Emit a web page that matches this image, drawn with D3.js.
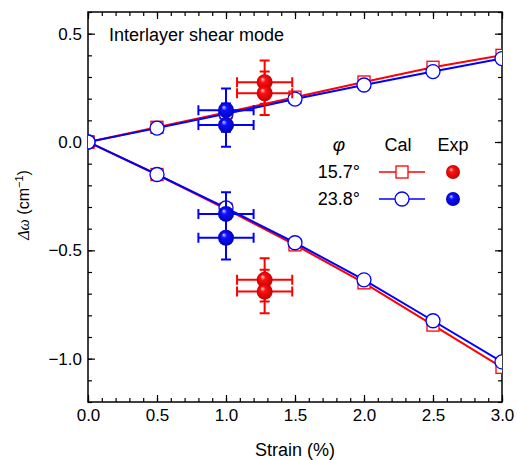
<!DOCTYPE html>
<html>
<head>
<meta charset="utf-8">
<script src="https://cdn.jsdelivr.net/npm/d3@7"></script>
<style>
  body { margin: 0; background: #fff; }
  text { font-family: "Liberation Sans", Arial, sans-serif; }
</style>
</head>
<body>
<div id="chart"></div>
<script>
// Data
const strain = [0, 0.5, 1.0, 1.5, 2.0, 2.5, 3.0];
const calRedUp = [0, 0.068, 0.136, 0.207, 0.277, 0.345, 0.40];
const calRedDown = [0, -0.15, -0.31, -0.475, -0.65, -0.845, -1.04];
const calBlueUp = [0, 0.064, 0.13, 0.198, 0.263, 0.325, 0.385];
const calBlueDown = [0, -0.15, -0.304, -0.465, -0.636, -0.825, -1.015];

// experimental points: [strain, shift, strainErr, shiftErr]
const expRed = [[1.28, 0.276, 0.2, 0.1], [1.28, 0.225, 0.2, 0.1], [1.28, -0.636, 0.2, 0.1], [1.28, -0.69, 0.2, 0.1]];
const expBlue = [[1.0, 0.147, 0.2, 0.1], [1.0, 0.078, 0.2, 0.1], [1.0, -0.332, 0.2, 0.1], [1.0, -0.442, 0.2, 0.1]];

const xTicks = [0, 0.5, 1.0, 1.5, 2.0, 2.5, 3.0];
const yTicks = [0.5, 0.0, -0.5, -1.0];

const width = 517, height = 460;
const margin = { top: 12, right: 15, bottom: 58, left: 88 };

const svg = d3.select('#chart').append('svg')
  .attr('width', width).attr('height', height);

const x = d3.scaleLinear().domain([0, 3]).range([margin.left, width - margin.right]);
const y = d3.scaleLinear().domain([-1.2, 0.6]).range([height - margin.bottom, margin.top]);

const defs = svg.append('defs');
function sphere(id, light, mid, dark) {
  const g = defs.append('radialGradient').attr('id', id)
    .attr('cx', '50%').attr('cy', '50%').attr('r', '55%')
    .attr('fx', '35%').attr('fy', '30%');
  g.append('stop').attr('offset', '0%').attr('stop-color', light);
  g.append('stop').attr('offset', '30%').attr('stop-color', mid);
  g.append('stop').attr('offset', '100%').attr('stop-color', dark);
}
sphere('redBall', '#ffd0d0', '#ff1010', '#c00000');
sphere('blueBall', '#d0d0ff', '#1010ff', '#0000b0');

svg.append('clipPath').attr('id', 'clip').append('rect')
  .attr('x', margin.left).attr('y', margin.top)
  .attr('width', width - margin.left - margin.right)
  .attr('height', height - margin.bottom - margin.top);

// Axes: ticks pointing inward on all sides
const minorX = d3.range(0, 3.01, 0.1);
const minorY = d3.range(-1.2, 0.61, 0.1);

function tickAxes(g, axisFn, scale, major, minor, pos, labels, pad) {
  g.append('g').attr('transform', pos)
    .call(axisFn(scale).tickValues(minor).tickSize(-4).tickFormat(''));
  g.append('g').attr('transform', pos)
    .call(axisFn(scale).tickValues(major).tickSize(-7).tickPadding(pad || 6)
      .tickFormat(labels ? (d => d3.format('.1f')(d).replace('-', '\u2212')) : ''));
}
const axes = svg.append('g').attr('class', 'axes');
tickAxes(axes, d3.axisBottom, x, xTicks, minorX, `translate(0,${y(-1.2)})`, true, 7);
tickAxes(axes, d3.axisTop, x, xTicks, minorX, `translate(0,${y(0.6)})`, false);
tickAxes(axes, d3.axisLeft, y, yTicks, minorY, `translate(${x(0)},0)`, true, 6);
tickAxes(axes, d3.axisRight, y, yTicks, minorY, `translate(${x(3)},0)`, false);
axes.selectAll('.domain').remove();
axes.selectAll('line').attr('stroke', '#000').attr('stroke-width', 1.2);
axes.selectAll('text').attr('font-size', 17).attr('fill', '#000');

svg.append('rect')
  .attr('x', x(0)).attr('y', y(0.6))
  .attr('width', x(3) - x(0)).attr('height', y(-1.2) - y(0.6))
  .attr('fill', 'none').attr('stroke', '#000').attr('stroke-width', 1.5);

// Axis labels
svg.append('text').attr('x', (x(0) + x(3)) / 2).attr('y', 456)
  .attr('text-anchor', 'middle').attr('font-size', 18).text('Strain (%)');

const yl = svg.append('text')
  .attr('transform', 'translate(29,205) rotate(-90)')
  .attr('text-anchor', 'middle').attr('font-size', 16);
yl.append('tspan').attr('font-family', 'Liberation Serif, serif').attr('font-style', 'italic').text('\u0394\u03c9');
yl.append('tspan').text(' (cm');
yl.append('tspan').attr('font-size', 11).attr('dy', -6).text('\u22121');
yl.append('tspan').attr('dy', 6).text(')');

svg.append('text').attr('x', 109).attr('y', 41).attr('font-size', 18).text('Interlayer shear mode');

const plot = svg.append('g').attr('clip-path', 'url(#clip)');
const line = d3.line().x((d, i) => x(strain[i])).y(d => d);

function calSeries(vals, color, shape) {
  plot.append('path')
    .datum(vals.map(y))
    .attr('d', line)
    .attr('fill', 'none').attr('stroke', color).attr('stroke-width', 2);
  vals.forEach((v, i) => {
    if (shape === 'square') {
      plot.append('rect').attr('x', x(strain[i]) - 6).attr('y', y(v) - 6)
        .attr('width', 12).attr('height', 12)
        .attr('fill', '#fff').attr('stroke', color).attr('stroke-width', 1.3);
    } else {
      plot.append('circle').attr('cx', x(strain[i])).attr('cy', y(v)).attr('r', 7)
        .attr('fill', '#fff').attr('stroke', color).attr('stroke-width', 1.3);
    }
  });
}
calSeries(calRedUp, '#ff0000', 'square');
calSeries(calRedDown, '#ff0000', 'square');
calSeries(calBlueUp, '#0000ff', 'circle');
calSeries(calBlueDown, '#0000ff', 'circle');

function expSeries(pts, color, grad) {
  const g = plot.append('g');
  pts.forEach(([sx, sy, ex, ey]) => {
    const cx = x(sx), cy = y(sy);
    const l = x(sx - ex), r = x(sx + ex), t = y(sy + ey), b = y(sy - ey);
    g.append('path')
      .attr('d', `M${l},${cy}H${r}M${l},${cy - 5}V${cy + 5}M${r},${cy - 5}V${cy + 5}` +
        `M${cx},${t}V${b}M${cx - 5},${t}H${cx + 5}M${cx - 5},${b}H${cx + 5}`)
      .attr('stroke', color).attr('stroke-width', 2).attr('fill', 'none');
  });
  pts.forEach(([sx, sy]) => {
    g.append('circle').attr('cx', x(sx)).attr('cy', y(sy)).attr('r', 8)
      .attr('fill', `url(#${grad})`);
  });
}
expSeries(expRed, '#ff0000', 'redBall');
expSeries(expBlue, '#0000ff', 'blueBall');

// Legend
const lg = svg.append('g');
lg.append('text').attr('x', 339).attr('y', 151).attr('text-anchor', 'middle')
  .attr('font-size', 19).attr('font-style', 'italic').attr('font-family', 'Liberation Serif, serif').text('\u03c6');
lg.append('text').attr('x', 398).attr('y', 151).attr('text-anchor', 'middle').attr('font-size', 18).text('Cal');
lg.append('text').attr('x', 453).attr('y', 151).attr('text-anchor', 'middle').attr('font-size', 18).text('Exp');

const legendRows = [
  { label: '15.7\u00b0', color: '#ff0000', shape: 'square', grad: 'redBall', cy: 172 },
  { label: '23.8\u00b0', color: '#0000ff', shape: 'circle', grad: 'blueBall', cy: 199 }
];
legendRows.forEach(r => {
  lg.append('text').attr('x', 360).attr('y', r.cy + 5.5).attr('text-anchor', 'end')
    .attr('font-size', 18).text(r.label);
  lg.append('line').attr('x1', 379).attr('x2', 425).attr('y1', r.cy).attr('y2', r.cy)
    .attr('stroke', r.color).attr('stroke-width', 1.5);
  if (r.shape === 'square') {
    lg.append('rect').attr('x', 396).attr('y', r.cy - 6).attr('width', 12).attr('height', 12)
      .attr('fill', '#fff').attr('stroke', r.color).attr('stroke-width', 1.3);
  } else {
    lg.append('circle').attr('cx', 402).attr('cy', r.cy).attr('r', 7)
      .attr('fill', '#fff').attr('stroke', r.color).attr('stroke-width', 1.3);
  }
  lg.append('circle').attr('cx', 453).attr('cy', r.cy).attr('r', 7).attr('fill', `url(#${r.grad})`);
});
</script>
</body>
</html>
